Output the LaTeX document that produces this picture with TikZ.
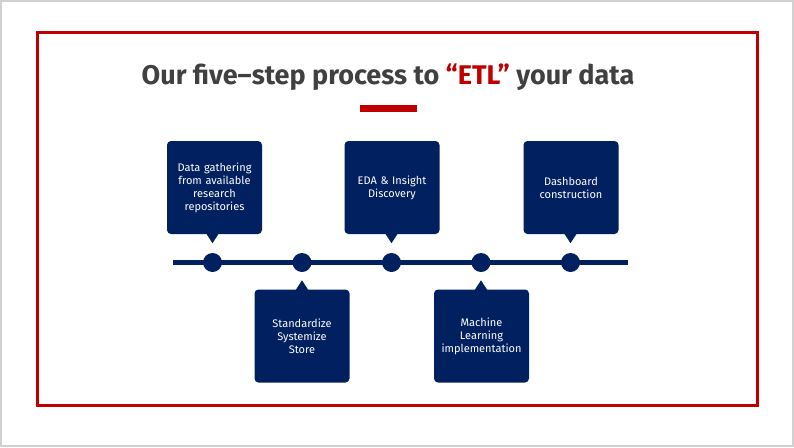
\documentclass[tikz,border=0pt]{standalone}
\usepackage{fontspec}
\setmainfont{Fira Sans}
\usepackage{xcolor}
\usetikzlibrary{positioning,calc}

\definecolor{navy}{HTML}{002060}
\definecolor{etlred}{HTML}{C00000}
\definecolor{titlegray}{HTML}{404040}

\begin{document}
\begin{tikzpicture}[x=1pt, y=-1pt,
		stepbox/.style = {fill=navy, rounded corners=4, minimum width=95, minimum height=93, inner sep=2, text width=88, align=center, text=white, font=\fontsize{11}{13}\selectfont}]
		\tikzset{dot/.style={circle, fill=navy, minimum size=19, inner sep=0pt}}
		\useasboundingbox (0,0) rectangle (794,447);
		\draw[black!18, line width=2] (1,1) rectangle (793,446);
		\draw[etlred, line width=3] (37.5,32.5) rectangle (757.5,405.5);

		\node[text=titlegray, font=\fontsize{27}{32}\bfseries\selectfont] (title) at (388,77) {Our five–step process to \textcolor{etlred}{“ETL”} your data};
		\node[fill=etlred, minimum width=57, minimum height=6.5, inner sep=0pt] (bar) at (388.5,108.5) {};

		% timeline
		\coordinate (start) at (173,262.5);
		\coordinate (end) at (628,262.5);
		\draw[navy, line width=5] (start) -- (end);
		\foreach \i/\x in {1/212.5, 2/302, 3/391.5, 4/481, 5/570.5}
			\node[dot] (d\i) at (\x,262.5) {};

		\node[stepbox] (b1) at (214.5,187.5) {Data gathering\\from available\\research\\repositories};
		\node[stepbox] (b3) at (392,187.5) {EDA \& Insight\\Discovery};
		\node[stepbox] (b5) at (571,187.5) {Dashboard\\construction};
		\node[stepbox] (b2) at (302,336) {Standardize\\Systemize\\Store};
		\node[stepbox] (b4) at (481.5,336) {Machine\\Learning\\implementation};

		% pointers
		\foreach \i in {1,3,5}
			\fill[navy] (d\i |- b\i.south) ++(-6.5,-1) -- ++(6.5,10) -- ++(6.5,-10) -- cycle;
		\foreach \i in {2,4}
			\fill[navy] (d\i |- b\i.north) ++(-6.5,1) -- ++(6.5,-10) -- ++(6.5,10) -- cycle;

	\end{tikzpicture}
\end{document}
